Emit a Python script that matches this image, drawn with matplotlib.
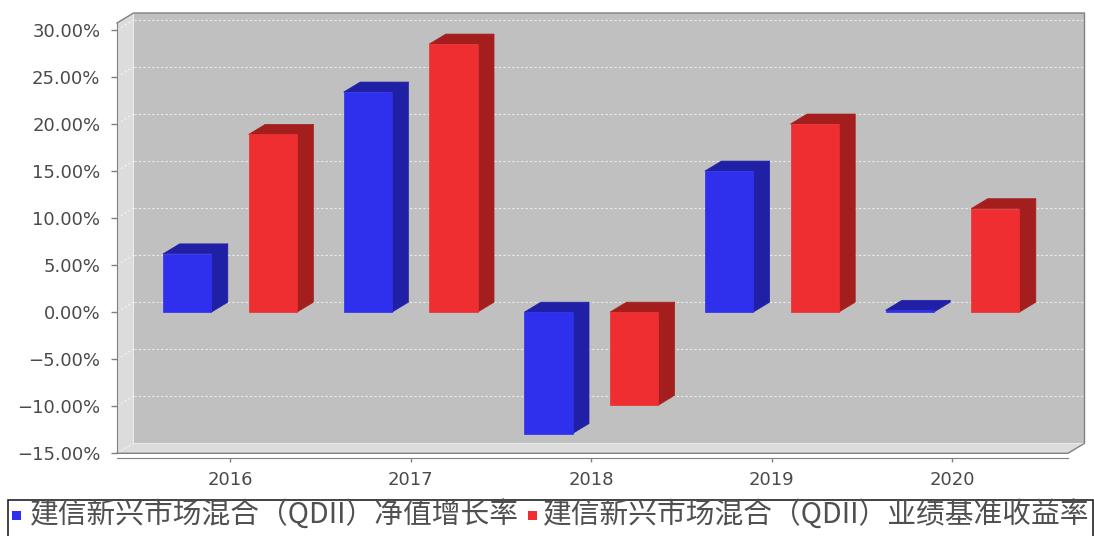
import matplotlib
matplotlib.use('Agg')
import matplotlib.pyplot as plt
from matplotlib.patches import Polygon, Rectangle
from matplotlib.ticker import FuncFormatter, FixedLocator

# ---- data ----
years = ['2016', '2017', '2018', '2019', '2020']
nav_growth = [6.2, 23.4, -12.9, 15.0, 0.2]      # 净值增长率 (%)
benchmark = [18.9, 28.5, -9.9, 20.0, 11.0]      # 业绩基准收益率 (%)
series_names = ['建信新兴市场混合（QDII）净值增长率',
                '建信新兴市场混合（QDII）业绩基准收益率']
yticks = [-15, -10, -5, 0, 5, 10, 15, 20, 25, 30]

# ---- style ----
front_cols = ['#2f2fee', '#ee2e30']
dark_cols = ['#2020a6', '#a51e1e']
wall_col = '#dcdcdc'
back_col = '#c0c0c0'
outline_col = '#808080'
text_col = '#4a4a4a'

W, H = 1094, 536
fig = plt.figure(figsize=(W / 100, H / 100), dpi=100)
fig.patch.set_facecolor('white')

L, R, T, B = 117, 1068, 23, 453.3
ax = fig.add_axes([L / W, 1 - B / H, (R - L) / W, (B - T) / H])
xmin, xmax = -0.6257, 4.640
ymin, ymax = -15, 30.74
ax.set_xlim(xmin, xmax)
ax.set_ylim(ymin, ymax)
ax.set_facecolor('none')
pxx = (R - L) / (xmax - xmin)
pxy = (B - T) / (ymax - ymin)
ddx = 16.5 / pxx
ddy = 10.0 / pxy

# back wall
ax.add_patch(Rectangle((xmin + ddx, ymin + ddy), xmax - xmin, ymax - ymin,
                       fc=back_col, ec='none', clip_on=False, zorder=0))
# left wall
ax.add_patch(Polygon([(xmin, ymin), (xmin, ymax), (xmin + ddx, ymax + ddy),
                      (xmin + ddx, ymin + ddy)], closed=True,
                     fc=wall_col, ec='none', clip_on=False, zorder=0.5))
# floor
ax.add_patch(Polygon([(xmin, ymin), (xmax, ymin), (xmax + ddx, ymin + ddy),
                      (xmin + ddx, ymin + ddy)], closed=True,
                     fc=wall_col, ec='none', clip_on=False, zorder=0.5))

# gridlines
for t in yticks:
    ax.plot([xmin + ddx, xmax + ddx], [t + ddy, t + ddy], color='#ececec',
            lw=0.8, ls=(0, (2, 2)), clip_on=False, zorder=1)
    ax.plot([xmin, xmin + ddx], [t, t + ddy], color='#f4f4f4',
            lw=0.8, ls=(0, (2, 2)), clip_on=False, zorder=1)

# outline of the box
ol = dict(color=outline_col, lw=1.0, clip_on=False, zorder=2)
ax.plot([xmin, xmin + ddx, xmax + ddx, xmax + ddx, xmax, xmin],
        [ymax, ymax + ddy, ymax + ddy, ymin + ddy, ymin, ymin], **ol)

# bars
width = 0.267
offsets = [-0.237, 0.237]
for s, vals in enumerate([nav_growth, benchmark]):
    for i, v in enumerate(vals):
        x0 = i + offsets[s] - width / 2
        x1 = x0 + width
        lo, hi = min(0, v), max(0, v)
        ax.add_patch(Polygon([(x1, lo), (x1 + ddx, lo + ddy), (x1 + ddx, hi + ddy), (x1, hi)],
                             closed=True, fc=dark_cols[s], ec=dark_cols[s], lw=0.5, zorder=3))
        ax.add_patch(Polygon([(x0, hi), (x1, hi), (x1 + ddx, hi + ddy), (x0 + ddx, hi + ddy)],
                             closed=True, fc=dark_cols[s], ec=dark_cols[s], lw=0.5, zorder=3))
        ax.add_patch(Rectangle((x0, lo), width, hi - lo, fc=front_cols[s],
                               ec=front_cols[s], lw=0.5, zorder=4))

# axes
for sp in ['top', 'right']:
    ax.spines[sp].set_visible(False)
ax.spines['left'].set_color(outline_col)
ax.spines['bottom'].set_color(outline_col)
ax.spines['bottom'].set_position(('outward', 3.5))
ax.yaxis.set_major_locator(FixedLocator(yticks))
ax.yaxis.set_major_formatter(FuncFormatter(lambda v, p: f'{v:.2f}%'.replace('-', '\u2212')))
ax.set_xticks(range(len(years)))
ax.set_xticklabels(years)
ax.tick_params(axis='y', length=4, width=1, color=outline_col, pad=8,
               labelsize=13, labelcolor=text_col)
ax.tick_params(axis='x', length=3, width=1, color=outline_col, pad=6,
               labelsize=13, labelcolor=text_col)

# legend
fig.add_artist(Rectangle((8 / W, -0.1), (1093 - 8) / W, 0.1 + 1 - 499.5 / H,
                         transform=fig.transFigure, fc='white', ec='#222222', lw=1.2))
fam = ['Noto Sans CJK SC', 'DejaVu Sans']
legend_y = 1 - 515 / H
for s, (mx, tx) in enumerate([(12, 30), (528, 543)]):
    fig.add_artist(Rectangle((mx / W, 1 - 520 / H), 9 / W, 9 / H,
                             transform=fig.transFigure, fc=front_cols[s], ec='none'))
    fig.text(tx / W, legend_y, series_names[s], family=fam, fontsize=20.7,
             color='#505050', va='center', ha='left')

fig.savefig('out.png', dpi=100, facecolor='white')
